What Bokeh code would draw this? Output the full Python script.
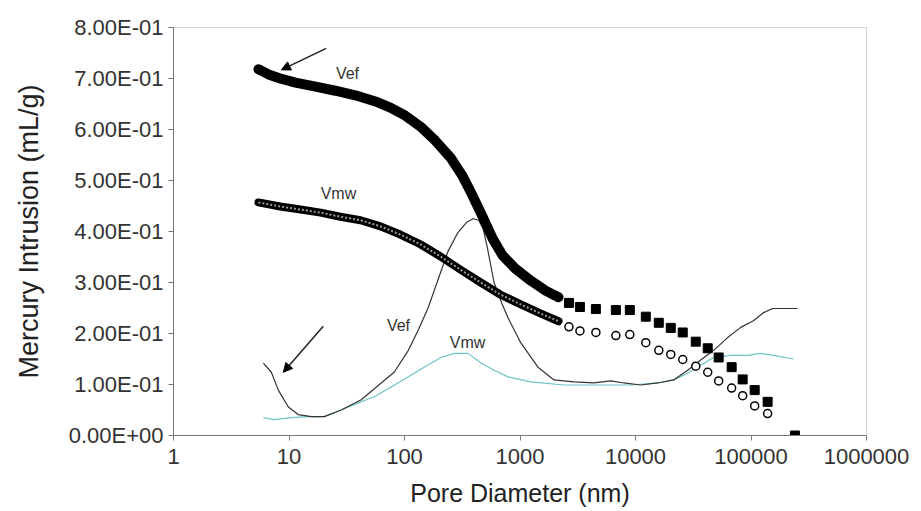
from bokeh.plotting import figure
from bokeh.models import Range1d, FixedTicker, CustomJSTickFormatter, Label, Arrow, NormalHead
from bokeh.embed import file_html
from bokeh.resources import INLINE

# ---- data ----
# cumulative intrusion, Vef (filled squares) - dense part then discrete squares
vef_dense_x = [5.44, 6.64, 8.4, 11.4, 17.0, 25.2, 37.5, 56.0, 75.4, 101.7, 137, 185, 250, 316, 387, 474,
               580, 707, 914, 1233, 1664, 2155]
vef_dense_y = [0.718, 0.708, 0.700, 0.692, 0.684, 0.676, 0.667, 0.655, 0.643, 0.627, 0.606, 0.578, 0.545,
               0.510, 0.471, 0.429, 0.386, 0.353, 0.327, 0.304, 0.284, 0.271]
vef_sq_x = [2654, 3303, 4540, 6760, 8930, 12280, 15910, 20200, 25640, 33240, 42200, 52500, 68000, 84700, 107600, 139300, 240000]
vef_sq_y = [0.260, 0.252, 0.248, 0.246, 0.246, 0.233, 0.221, 0.211, 0.202, 0.184, 0.171, 0.153, 0.134, 0.110, 0.089, 0.066, 0.0]

# cumulative intrusion, Vmw (open circles)
vmw_dense_x = [5.44, 8.4, 12.6, 18.8, 27.8, 41.6, 62, 92, 137, 205, 306, 457, 680, 1015, 1515, 2155]
vmw_dense_y = [0.457, 0.449, 0.443, 0.437, 0.429, 0.422, 0.410, 0.394, 0.375, 0.351, 0.325, 0.300, 0.276,
               0.257, 0.239, 0.224]
vmw_circ_x = [2654, 3303, 4540, 6760, 8930, 12280, 15910, 20200, 25640, 33240, 42200, 52500, 68000, 84700, 107600, 139300]
vmw_circ_y = [0.213, 0.205, 0.202, 0.196, 0.198, 0.182, 0.167, 0.159, 0.149, 0.136, 0.124, 0.107, 0.093, 0.078, 0.058, 0.043]

# derivative curve Vef (thin dark line)
vef_d_x = [6.0, 7.03, 8.08, 9.87, 12.0, 15.6, 20.2, 28.3, 42.2, 62.8, 81.4, 108, 131, 160, 238, 290, 345, 393,
           440, 480, 520, 596, 700, 787, 1020, 1432, 1968, 2930, 4360, 6120, 7930, 11120, 15600, 21400, 28300,
           36700, 47500, 62800, 81400, 105000, 128700, 153800, 253000]
vef_d_y = [0.142, 0.124, 0.089, 0.056, 0.041, 0.037, 0.037, 0.050, 0.070, 0.103, 0.124, 0.167, 0.206, 0.250,
           0.361, 0.398, 0.418, 0.425, 0.422, 0.405, 0.370, 0.300, 0.258, 0.231, 0.181, 0.134, 0.109, 0.105,
           0.103, 0.107, 0.103, 0.099, 0.103, 0.109, 0.128, 0.148, 0.167, 0.192, 0.212, 0.225, 0.241, 0.249,
           0.249]

# derivative curve Vmw (thin cyan line)
vmw_d_x = [6.0, 7.47, 10.5, 14.7, 20.2, 28.3, 39.7, 54.7, 76.7, 108, 148, 207, 269, 355, 460, 596, 787, 1245,
           2400, 4720, 9110, 15600, 21400, 28300, 36700, 47500, 66700, 93500, 121000, 157000, 234000]
vmw_d_y = [0.035, 0.031, 0.035, 0.037, 0.037, 0.050, 0.064, 0.076, 0.095, 0.115, 0.134, 0.153, 0.161, 0.161,
           0.142, 0.128, 0.115, 0.105, 0.099, 0.099, 0.099, 0.103, 0.109, 0.122, 0.138, 0.153, 0.157, 0.157,
           0.161, 0.157, 0.150]

x_ticks = [1, 10, 100, 1000, 10000, 100000, 1000000]
y_ticks = [0.0, 0.1, 0.2, 0.3, 0.4, 0.5, 0.6, 0.7, 0.8]

FONT = "Liberation Sans"

p = figure(width=921, height=511, x_axis_type="log",
           x_range=Range1d(1, 1e6), y_range=Range1d(0, 0.8),
           output_backend="svg", toolbar_location=None,
           min_border_left=173, min_border_right=55, min_border_top=27, min_border_bottom=76)
p.background_fill_color = "white"
p.border_fill_color = "white"
p.xgrid.visible = False
p.ygrid.visible = False
p.outline_line_color = "#aaaaaa"
p.outline_line_dash = "1 1"
p.outline_line_width = 1

# derivative curves
p.line(vmw_d_x, vmw_d_y, line_color="#6cc4c6", line_width=1.2)
p.line(vef_d_x, vef_d_y, line_color="#333333", line_width=1.2)

# Vmw cumulative
p.line(vmw_dense_x, vmw_dense_y, line_color="black", line_width=8, line_cap="round", line_join="round")
p.line(vmw_dense_x, vmw_dense_y, line_color="#999999", line_width=2, line_dash="2 2")
p.scatter(vmw_circ_x, vmw_circ_y, marker="circle", size=8, fill_color="white",
          line_color="black", line_width=1.5)

# Vef cumulative
p.line(vef_dense_x, vef_dense_y, line_color="black", line_width=10, line_cap="round", line_join="round")
p.scatter(vef_sq_x, vef_sq_y, marker="square", size=9, fill_color="black", line_color="black")

# axes
for ax in (p.xaxis[0], p.yaxis[0]):
    ax.axis_line_color = "#777777"
    ax.major_tick_line_color = "#777777"
    ax.major_tick_in = 0
    ax.major_tick_out = 5
    ax.minor_tick_in = 0
    ax.minor_tick_out = 0
    ax.major_label_text_font = FONT
    ax.major_label_text_color = "#333333"
    ax.axis_label_text_font = FONT
    ax.axis_label_text_font_style = "normal"
    ax.axis_label_text_color = "#222222"

p.xaxis.ticker = FixedTicker(ticks=x_ticks)
p.xaxis.formatter = CustomJSTickFormatter(code="return Math.round(tick).toString();")
p.xaxis.major_label_text_font_size = "22px"
p.xaxis.major_label_standoff = 8
p.xaxis.axis_label = "Pore Diameter (nm)"
p.xaxis.axis_label_text_font_size = "25px"
p.xaxis.axis_label_standoff = 12

p.yaxis.ticker = FixedTicker(ticks=y_ticks)
p.yaxis.formatter = CustomJSTickFormatter(code="""
const s = tick.toExponential(2).toUpperCase();
const parts = s.split("E");
let e = parts[1];
const sign = e[0] === "-" ? "-" : "+";
e = e.replace("+", "").replace("-", "");
if (e.length < 2) { e = "0" + e; }
return parts[0] + "E" + sign + e;
""")
p.yaxis.major_label_text_font_size = "22px"
p.yaxis.axis_label = "Mercury Intrusion (mL/g)"
p.yaxis.axis_label_text_font_size = "27px"
p.yaxis.axis_label_standoff = 22

# annotations
for tx, x, y in [("Vef", 32.1, 0.710), ("Vmw", 26.8, 0.475), ("Vef", 88.7, 0.216), ("Vmw", 351, 0.182)]:
    p.add_layout(Label(x=x, y=y, text=tx, text_font=FONT, text_font_size="16px",
                       text_color="#333333", text_align="center", text_baseline="middle"))

p.add_layout(Arrow(end=NormalHead(size=9, fill_color="black", line_color="black"),
                   x_start=21.0, y_start=0.759, x_end=8.59, y_end=0.717,
                   line_color="#222222", line_width=1.5))
p.add_layout(Arrow(end=NormalHead(size=9, fill_color="black", line_color="black"),
                   x_start=19.8, y_start=0.214, x_end=8.93, y_end=0.124,
                   line_color="#222222", line_width=1.5))

open("out.html", "w").write(file_html(p, INLINE))
